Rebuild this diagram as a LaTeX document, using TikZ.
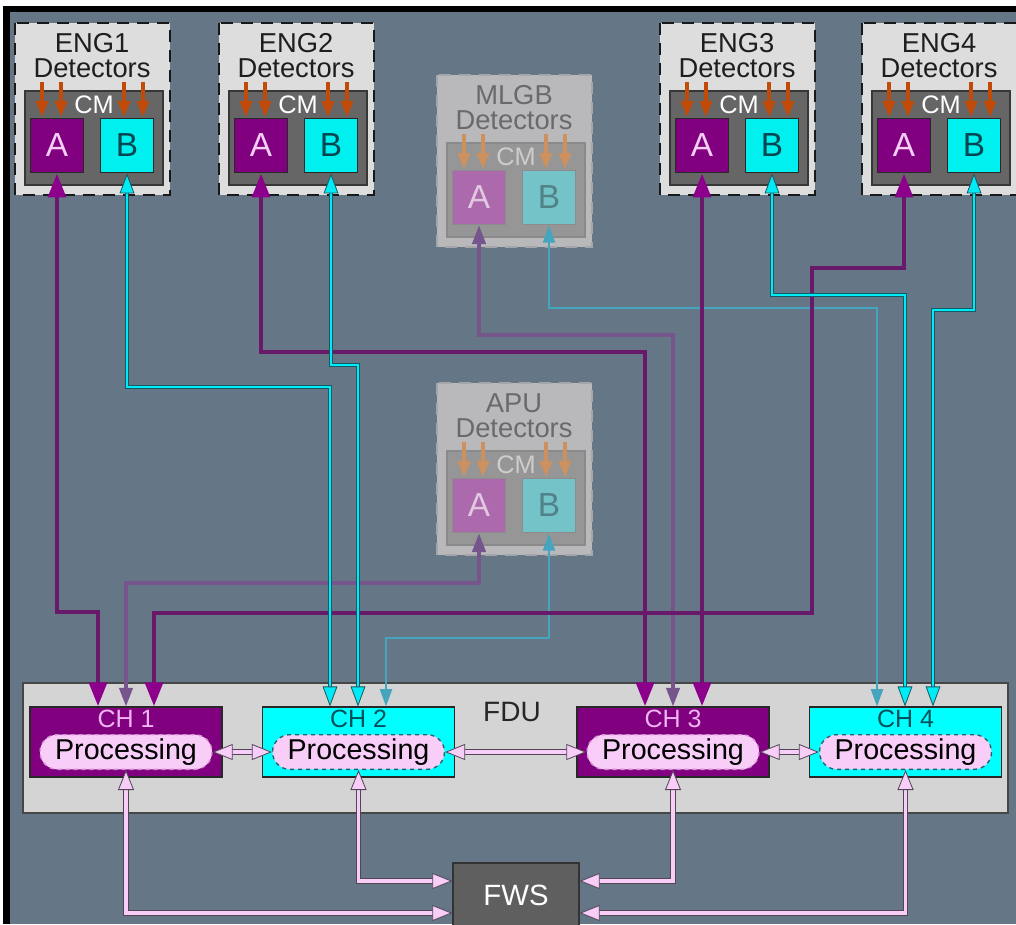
\documentclass[tikz,border=0pt]{standalone}
\usepackage{fontspec}
\setmainfont{Liberation Sans}
\usetikzlibrary{arrows.meta}

\definecolor{bgslate}{RGB}{101,119,134}
\definecolor{boxgrey}{RGB}{221,221,221}
\definecolor{dashcol}{RGB}{25,25,25}
\definecolor{labelcol}{RGB}{30,30,30}
\definecolor{cmgrey}{RGB}{102,102,102}
\definecolor{cmedge}{RGB}{55,55,55}
\definecolor{cmtextcol}{RGB}{255,255,255}
\definecolor{apurple}{RGB}{128,0,128}
\definecolor{atextcol}{RGB}{245,205,245}
\definecolor{bcyan}{RGB}{0,240,240}
\definecolor{btextcol}{RGB}{0,70,80}
\definecolor{boxedge}{RGB}{40,40,40}
\definecolor{cmorange}{RGB}{195,75,10}
\definecolor{alinecol}{RGB}{105,25,105}
\definecolor{atipcol}{RGB}{140,0,140}
\definecolor{blinecol}{RGB}{0,235,245}
\definecolor{bedgecol}{RGB}{20,90,100}
\definecolor{fadeacol}{RGB}{118,84,140}
\definecolor{fadebcol}{RGB}{70,165,190}
\definecolor{fdugrey}{RGB}{212,212,212}
\definecolor{fduedge}{RGB}{70,70,70}
\definecolor{chpurple}{RGB}{128,0,128}
\definecolor{chptext}{RGB}{240,180,240}
\definecolor{chcyan}{RGB}{0,255,255}
\definecolor{chctext}{RGB}{0,80,90}
\definecolor{procpink}{RGB}{248,205,248}
\definecolor{pedgep}{RGB}{215,150,215}
\definecolor{pedgec}{RGB}{30,100,110}
\definecolor{fwsgrey}{RGB}{95,95,95}
\definecolor{plinkedge}{RGB}{80,70,85}

\tikzset{
unitbox/.style={fill=boxgrey, draw=dashcol, line width=1.9pt, dash pattern=on 9pt off 6pt},
unittext/.style={text=labelcol, align=center, inner sep=0pt, font=\fontsize{20.5}{18.75}\selectfont},
cmbox/.style={fill=cmgrey, draw=cmedge, line width=0.8pt},
cmlabel/.style={text=cmtextcol, inner sep=0pt, font=\fontsize{19}{19}\selectfont},
cmarrow/.style={draw=cmorange, line width=2.6pt, -{Triangle[length=12pt,width=9pt]}},
abox/.style={draw=boxedge, fill=apurple, text=atextcol, line width=0.8pt, minimum width=40pt, minimum height=41pt, inner sep=0pt, font=\fontsize{25}{25}\selectfont},
bbox/.style={abox, fill=bcyan, text=btextcol},
alink/.style={draw=alinecol, line width=3.6pt, {Triangle[length=18pt,width=13pt,color=atipcol]}-{Triangle[length=18pt,width=13pt,color=atipcol]}},
blink/.style={draw=bedgecol, double=blinecol, line width=0.6pt, double distance=2.2pt, {Triangle[length=15pt,width=11pt,fill=blinecol]}-{Triangle[length=15pt,width=11pt,fill=blinecol]}},
fadealink/.style={draw=fadeacol, line width=2.4pt, {Triangle[length=14pt,width=10pt]}-{Triangle[length=14pt,width=10pt]}},
fadeblink/.style={draw=fadebcol, line width=1.7pt, {Triangle[length=13pt,width=9pt]}-{Triangle[length=13pt,width=9pt]}},
fdubox/.style={fill=fdugrey, draw=fduedge, line width=0.8pt, minimum width=738.75pt, minimum height=97.5pt},
fdutext/.style={text=black!85, inner sep=0pt, font=\fontsize{21}{21}\selectfont},
chbox/.style={draw=boxedge, line width=0.8pt, minimum width=144pt, minimum height=52.5pt, inner sep=0pt},
chlabel/.style={anchor=north, inner sep=0pt, yshift=-2.5pt, font=\fontsize{18.75}{18.75}\selectfont},
procpill/.style={fill=procpink, line width=1pt, dashed, rounded corners=13pt, minimum width=129pt, minimum height=26pt, inner sep=0pt, text=black, font=\fontsize{21.5}{21.5}\selectfont},
fwsbox/.style={fill=fwsgrey, draw=black!80, line width=1pt, minimum width=94.5pt, minimum height=48pt, text=white, font=\fontsize{22}{22}\selectfont},
plink/.style={draw=plinkedge, double=procpink, line width=0.6pt, double distance=2.6pt, {Triangle[length=15pt,width=12pt,fill=procpink]}-{Triangle[length=15pt,width=12pt,fill=procpink]}}
}

% detector unit: name, left, top, label
\newcommand{\detunit}[4]{%
\begin{scope}[shift={(#2,#3)}]
\draw[unitbox] (0,0) rectangle (155,172);
\node[unittext] at (77,33) {#4\\Detectors};
\draw[cmbox] (10,68) rectangle (148,162);
\node[cmlabel] at (79,82) {CM};
\foreach \ax in {27,46,109,128}
  \draw[cmarrow] (\ax,59) -- (\ax,94);
\node[abox] (#1-A) at (42,122.5) {A};
\node[bbox] (#1-B) at (112,122.5) {B};
\end{scope}}

\begin{document}
\begin{tikzpicture}[x=0.75pt,y=0.75pt,yscale=-1]
\path[use as bounding box, clip] (0,0) rectangle (1016,924);

%Frame
\fill[white] (0,0) rectangle (1016,924);
\fill[black] (3,6) rectangle (1016,924);
\fill[bgslate] (10,12) rectangle (1016,924);

%Engine detectors
\detunit{eng1}{15}{23}{ENG1}
\detunit{eng2}{219}{23}{ENG2}
\detunit{eng3}{660}{23}{ENG3}
\detunit{eng4}{862}{23}{ENG4}

%Faded detectors
\begin{scope}
\definecolor{boxgrey}{RGB}{185,185,188}
\definecolor{dashcol}{RGB}{165,165,170}
\definecolor{labelcol}{RGB}{105,105,110}
\definecolor{cmgrey}{RGB}{150,150,150}
\definecolor{cmedge}{RGB}{138,138,138}
\definecolor{cmtextcol}{RGB}{205,205,205}
\definecolor{apurple}{RGB}{172,105,172}
\definecolor{atextcol}{RGB}{225,200,225}
\definecolor{bcyan}{RGB}{115,195,200}
\definecolor{btextcol}{RGB}{80,130,135}
\definecolor{boxedge}{RGB}{140,140,140}
\definecolor{cmorange}{RGB}{205,145,95}
\detunit{mlgb}{437}{75}{MLGB}
\detunit{apu}{437}{383}{APU}
\end{scope}

%FDU
\node[fdubox] (fdu) at (515.5,748) {};
\node[fdutext] (fdu-label) at (512,712) {FDU};
\node[chbox, fill=chpurple, label={[chlabel, text=chptext]north:CH 1}] (ch1) at (126,742) {};
\node[chbox, fill=chcyan, label={[chlabel, text=chctext]north:CH 2}] (ch2) at (358.5,742) {};
\node[chbox, fill=chpurple, label={[chlabel, text=chptext]north:CH 3}] (ch3) at (673,742) {};
\node[chbox, fill=chcyan, label={[chlabel, text=chctext]north:CH 4}] (ch4) at (905.5,742) {};
\node[procpill, draw=pedgep] (p1) at (126,752) {Processing};
\node[procpill, draw=pedgec] (p2) at (358.5,752) {Processing};
\node[procpill, draw=pedgep] (p3) at (673,752) {Processing};
\node[procpill, draw=pedgec] (p4) at (905.5,752) {Processing};

%FWS
\node[fwsbox] (fws) at (516,895) {FWS};

%Faded links
\draw[fadealink] (mlgb-A.south) |- (673,335) -- (673,0 |- ch3.north);
\draw[fadeblink] (mlgb-B.south) |- (877,308) -- (877,0 |- ch4.north);
\draw[fadealink] (apu-A.south) |- (126,583) -- (126,0 |- ch1.north);
\draw[fadeblink] (apu-B.south) |- (386,638) -- (386,0 |- ch2.north);

%A links
\draw[alink] (eng1-A.south) |- (98,612) -- (98,0 |- ch1.north);
\draw[alink] (eng4-A.south) |- (812,268) |- (154,613) -- (154,0 |- ch1.north);
\draw[alink] (eng2-A.south) |- (645,352) -- (645,0 |- ch3.north);
\draw[alink] (eng3-A.south) -- (eng3-A.south |- ch3.north);

%B links
\draw[blink] (eng1-B.south) |- (330,387) -- (330,0 |- ch2.north);
\draw[blink] (eng2-B.south) |- (358,365) -- (358,0 |- ch2.north);
\draw[blink] (eng3-B.south) |- (905,295) -- (905,0 |- ch4.north);
\draw[blink] (eng4-B.south) |- (933,310) -- (933,0 |- ch4.north);

%Processing links
\draw[plink] (p1.east) -- (p2.west);
\draw[plink] (p2.east) -- (p3.west);
\draw[plink] (p3.east) -- (p4.west);
\draw[plink] (p1.south) |- ([yshift=13.5pt]fws.west);
\draw[plink] (p2.south) |- ([yshift=-10.5pt]fws.west);
\draw[plink] (p3.south) |- ([yshift=-10.5pt]fws.east);
\draw[plink] (p4.south) |- ([yshift=13.5pt]fws.east);

\end{tikzpicture}
\end{document}
